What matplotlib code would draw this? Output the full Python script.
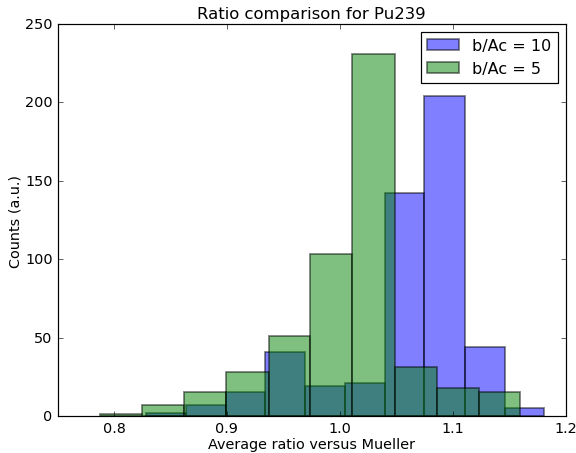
import matplotlib
matplotlib.use("Agg")
import matplotlib.pyplot as plt
import numpy as np

# bin edges and counts
edges_10 = [0.828, 0.8635, 0.899, 0.934, 0.969, 1.005, 1.040, 1.075, 1.111, 1.146, 1.181]
counts_10 = [2, 7, 15, 41, 19, 21, 142, 204, 44, 5]

edges_5 = [0.7876, 0.825, 0.862, 0.899, 0.937, 0.974, 1.011, 1.049, 1.086, 1.123, 1.160]
counts_5 = [1, 7, 15, 28, 51, 103, 231, 31, 18, 15]

DPI = 86.4
plt.style.use('classic')
fig = plt.figure(figsize=(576 / DPI, 454 / DPI), dpi=DPI)
ax = fig.add_axes([57.5 / 576, 1 - 417 / 454, 508 / 576, 392 / 454])

ax.hist(np.array(edges_10[:-1]), bins=edges_10, weights=counts_10,
        color='b', alpha=0.5, linewidth=1.5, label='b/Ac = 10')
ax.hist(np.array(edges_5[:-1]), bins=edges_5, weights=counts_5,
        color='g', alpha=0.5, linewidth=1.5, label='b/Ac = 5')

ax.set_xlim(0.75, 1.2)
ax.set_ylim(0, 250)
ax.set_xticks([0.8, 0.9, 1.0, 1.1, 1.2])
ax.set_title('Ratio comparison for Pu239', fontsize=13.8)
ax.set_xlabel('Average ratio versus Mueller', labelpad=2)
ax.set_ylabel('Counts (a.u.)', labelpad=2)
ax.legend(loc='upper right', fontsize=13.3)

fig.savefig('out.png', dpi=DPI)
